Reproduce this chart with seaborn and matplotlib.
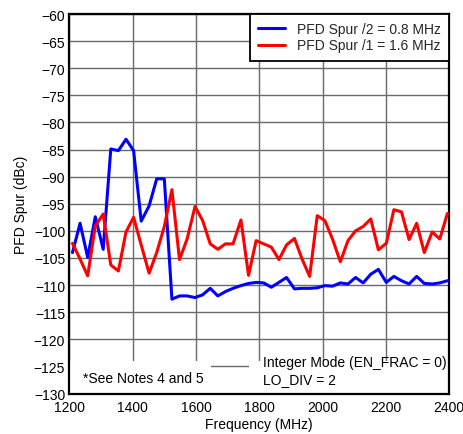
import numpy as np
import pandas as pd
import matplotlib
matplotlib.use("Agg")
import matplotlib.pyplot as plt
import seaborn as sns
from matplotlib.patches import Rectangle

freq_mhz = [1210, 1234, 1258, 1282, 1307, 1331, 1355, 1379, 1403, 1427,
            1452, 1476, 1500, 1524, 1548, 1572, 1597, 1621, 1645, 1669,
            1693, 1717, 1742, 1766, 1790, 1814, 1838, 1862, 1886, 1911,
            1935, 1959, 1983, 2007, 2031, 2056, 2080, 2104, 2128, 2152,
            2176, 2201, 2225, 2249, 2273, 2297, 2321, 2346, 2370, 2394]

spur_div2 = [-104.0, -98.6, -104.9, -97.4, -103.4, -84.9, -85.2, -83.1, -85.2, -98.2,
             -95.4, -90.4, -90.4, -112.6, -112.0, -112.0, -112.3, -111.8, -110.6, -112.0,
             -111.2, -110.6, -110.1, -109.7, -109.5, -109.6, -110.4, -109.5, -108.6, -110.7,
             -110.6, -110.6, -110.5, -110.1, -110.2, -109.6, -109.8, -108.6, -109.6, -108.0,
             -107.1, -109.5, -108.4, -109.2, -109.8, -108.4, -109.7, -109.8, -109.6, -109.2]

spur_div1 = [-102.3, -105.2, -108.3, -99.1, -96.9, -106.3, -107.4, -100.2, -97.5, -102.6,
             -107.8, -104.0, -99.2, -92.4, -105.3, -101.5, -95.5, -98.1, -102.4, -103.4,
             -102.4, -102.4, -98.0, -108.2, -101.8, -102.4, -103.0, -105.3, -102.6, -101.4,
             -105.2, -108.4, -97.2, -98.1, -101.5, -105.7, -101.8, -100.0, -99.2, -97.8,
             -103.5, -102.3, -96.1, -96.5, -101.6, -98.6, -104.0, -100.2, -101.5, -96.8]

series_names = ["PFD Spur /2 = 0.8 MHz", "PFD Spur /1 = 1.6 MHz"]
series_colors = ["#0000ff", "#ff0000"]

x_ticks = [1200, 1400, 1600, 1800, 2000, 2200, 2400]
y_ticks = list(range(-130, -55, 5))

df = pd.concat([
    pd.DataFrame({"Frequency": freq_mhz, "Spur": spur_div2, "Series": series_names[0]}),
    pd.DataFrame({"Frequency": freq_mhz, "Spur": spur_div1, "Series": series_names[1]}),
], ignore_index=True)

sns.set_theme(style="white")
plt.rcParams["font.family"] = ["Liberation Sans", "DejaVu Sans"]

FS = 10

fig = plt.figure(figsize=(4.64, 4.35), dpi=100)
ax = fig.add_axes([0.1494, 0.0931, 0.8189, 0.8724])

sns.lineplot(data=df, x="Frequency", y="Spur", hue="Series",
             palette=dict(zip(series_names, series_colors)),
             linewidth=2.2, ax=ax, sort=False, estimator=None, zorder=3)

ax.set_xlim(1200, 2400)
ax.set_ylim(-130, -60)
ax.set_xticks(x_ticks)
ax.set_yticks(y_ticks)
ax.tick_params(axis="both", length=0, labelsize=FS, colors="black")
ax.tick_params(axis="x", pad=4.5)
ax.tick_params(axis="y", pad=3)
ax.grid(True, color="#6a6a6a", linewidth=1.0, zorder=0)
ax.set_axisbelow(True)
for s in ax.spines.values():
    s.set_color("black")
    s.set_linewidth(1.6)

ax.set_xlabel("Frequency (MHz)", fontsize=FS, color="black", labelpad=2.5)
ax.set_ylabel("PFD Spur (dBc)", fontsize=FS, color="black", labelpad=4)

# white panels behind the notes (hide grid there)
trans = ax.transAxes
ax.add_patch(Rectangle((0.0, 0.0), 0.372, 0.0865, transform=trans,
                       facecolor="white", edgecolor="none", zorder=1.5))
ax.add_patch(Rectangle((0.473, 0.0), 0.527, 0.0865, transform=trans,
                       facecolor="white", edgecolor="none", zorder=1.5))

ax.text(0.036, 0.04, "*See Notes 4 and 5", transform=trans, fontsize=FS,
        ha="left", va="center", color="black", zorder=4)
ax.text(0.509, 0.083, "Integer Mode (EN_FRAC = 0)", transform=trans, fontsize=FS,
        ha="left", va="center", color="black", zorder=4)
ax.text(0.509, 0.038, "LO_DIV = 2", transform=trans, fontsize=FS,
        ha="left", va="center", color="black", zorder=4)

leg = ax.legend(loc="upper right", bbox_to_anchor=(1.0, 1.0), borderaxespad=0,
                fontsize=FS, frameon=True, fancybox=False, framealpha=1,
                edgecolor="black", handlelength=1.95, handletextpad=0.85,
                borderpad=0.6, labelspacing=0.15, title=None)
leg.get_frame().set_linewidth(1.3)
leg.set_zorder(5)

fig.savefig("out.png", dpi=100)
